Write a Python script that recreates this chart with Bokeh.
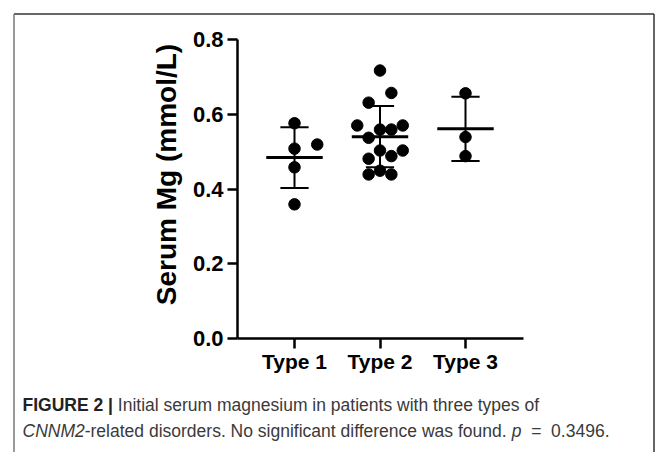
import numpy as np
from bokeh.plotting import figure
from bokeh.models import Range1d, FixedTicker, NumeralTickFormatter
from bokeh.core.properties import value
from bokeh.embed import file_html
from bokeh.resources import INLINE

# ---------------- data ----------------
categories = ["Type 1", "Type 2", "Type 3"]
type1_mg = [0.576, 0.508, 0.519, 0.458, 0.359]
type2_mg = [0.717, 0.657, 0.631, 0.570, 0.559, 0.559, 0.570, 0.537,
            0.503, 0.488, 0.503, 0.481, 0.439, 0.449, 0.439]
type3_mg = [0.656, 0.539, 0.488]
y_ticks = [0.0, 0.2, 0.4, 0.6, 0.8]
y_label = "Serum Mg (mmol/L)"

# layout only: horizontal slot of each dot inside its column (dot-plot spreading)
type1_slot = [0, 0, 2, 0, 0]
type2_slot = [0, 1, -1, -2, 0, 1, 2, -1, 0, 1, 2, -1, -1, 0, 1]
type3_slot = [0, 0, 0]

groups = [type1_mg, type2_mg, type3_mg]
slots = [type1_slot, type2_slot, type3_slot]
SLOT_W = 0.133

xs, ys = [], []
for i, (vals, sl) in enumerate(zip(groups, slots)):
    for v, s in zip(vals, sl):
        xs.append(i + 1 + s * SLOT_W)
        ys.append(v)

pos = np.arange(1, len(categories) + 1)
means = np.array([np.mean(g) for g in groups])
sds = np.array([np.std(g, ddof=1) for g in groups])

# ---------------- picture geometry (pixels) ----------------
W, H = 655, 452
PX_PER_X = 85.5         # pixels per category step
PX_PER_Y = 373.75       # pixels per 1.0 of y
X1_PX = 294.0           # picture x of category 1
Y0_PX = 338.0           # picture y of value 0


def xd(px):
    return 1 + (px - X1_PX) / PX_PER_X


def yd(py):
    return (Y0_PX - py) / PX_PER_Y


AX_LEFT = xd(237)
AX_RIGHT = xd(523)

p = figure(width=W, height=H, output_backend="svg", toolbar_location=None,
           x_range=Range1d(xd(0), xd(W)),
           y_range=Range1d(yd(H), yd(0)),
           min_border=0, min_border_left=0, min_border_right=0,
           min_border_top=0, min_border_bottom=0)
p.background_fill_color = "white"
p.border_fill_color = "white"
p.outline_line_color = None
p.xgrid.visible = False
p.ygrid.visible = False

# dots
p.scatter(xs, ys, size=11.5, color="black")

# mean and SD
MEAN_HW = 0.33
CAP_HW = 0.165
p.segment(x0=pos - MEAN_HW, x1=pos + MEAN_HW, y0=means, y1=means, line_color="black", line_width=3)
p.segment(x0=pos, x1=pos, y0=means - sds, y1=means + sds, line_color="black", line_width=2)
p.segment(x0=pos - CAP_HW, x1=pos + CAP_HW, y0=means + sds, y1=means + sds, line_color="black", line_width=2)
p.segment(x0=pos - CAP_HW, x1=pos + CAP_HW, y0=means - sds, y1=means - sds, line_color="black", line_width=2)

# axes, drawn at fixed places inside the canvas
for ax in (p.xaxis[0], p.yaxis[0]):
    ax.axis_line_width = 2.5
    ax.axis_line_color = "black"
    ax.major_tick_line_width = 2.5
    ax.major_tick_line_color = "black"
    ax.major_tick_in = 0
    ax.major_tick_out = 10
    ax.minor_tick_line_color = None
    ax.major_label_text_font = "Liberation Sans"
    ax.major_label_text_font_style = "bold"
    ax.major_label_text_color = "black"

p.xaxis.fixed_location = 0.0
p.xaxis.bounds = (AX_LEFT, AX_RIGHT)
p.xaxis.ticker = FixedTicker(ticks=list(pos))
p.xaxis.major_label_overrides = {int(k): c for k, c in zip(pos, categories)}
p.xaxis.major_label_standoff = 1
p.xaxis.major_label_text_font_size = "21px"

p.yaxis.fixed_location = AX_LEFT
p.yaxis.bounds = (0.0, 0.8)
p.yaxis.ticker = FixedTicker(ticks=y_ticks)
p.yaxis.formatter = NumeralTickFormatter(format="0.0")
p.yaxis.major_label_standoff = 4
p.yaxis.major_label_text_font_size = "22px"

# y-axis title (placed like the reference: slightly above the axis centre)
p.text(x=[xd(166)], y=[yd(174)], text=[y_label], angle=np.pi / 2,
       text_font=value("Liberation Sans"), text_font_style=value("bold"),
       text_font_size=value("28px"), text_color="black",
       text_align="center", text_baseline="middle")

# ---------------- figure frame ----------------
FL, FT, FR = 13.5, 13.5, W - 1.5
p.segment(x0=[xd(FL)], y0=[yd(FT)], x1=[xd(FR)], y1=[yd(FT)], line_color="#333333", line_width=1.5)
p.segment(x0=[xd(FL)], y0=[yd(FT)], x1=[xd(FL)], y1=[yd(H + 5)], line_color="#777777", line_width=1.5)
p.segment(x0=[xd(FR)], y0=[yd(FT)], x1=[xd(FR)], y1=[yd(H + 5)], line_color="#333333", line_width=1.5)

# ---------------- caption ----------------
REG = {' ': 278, '|': 260, '-': 333, '.': 278, '=': 584,
       'C': 722, 'I': 278, 'M': 833, 'N': 722,
       'a': 556, 'b': 556, 'c': 500, 'd': 556, 'e': 556, 'f': 278, 'g': 556, 'h': 556,
       'i': 222, 'k': 500, 'l': 222, 'm': 833, 'n': 556, 'o': 556, 'p': 556, 'r': 333,
       's': 500, 't': 278, 'u': 556, 'v': 500, 'w': 722, 'y': 500}
for d in "0123456789":
    REG[d] = 556
BOLD = {' ': 278, '|': 280, 'F': 611, 'I': 278, 'G': 778, 'U': 722, 'R': 722, 'E': 667, '2': 556}


def width(txt, bold, fs):
    tbl = BOLD if bold else REG
    return sum(tbl.get(ch, 556) for ch in txt) * fs / 1000.0


CAP_FS = 17.5
CAP_X = 22.0
line1 = [("FIGURE 2 |", "bold", "#222222"),
         (" ", None, None),
         ("Initial serum magnesium in patients with three types of", "normal", "#3a3a3a")]
line2 = [("CNNM2", "italic", "#3a3a3a"),
         ("-related disorders. No significant difference was found.", "normal", "#3a3a3a"),
         (" ", None, None),
         ("p", "italic", "#3a3a3a"),
         ("  ", None, None),
         ("=", "normal", "#3a3a3a"),
         ("  ", None, None),
         ("0.3496.", "normal", "#3a3a3a")]

for line, y in ((line1, 404.0), (line2, 430.0)):
    x = CAP_X
    for txt, style, col in line:
        if style is not None:
            p.text(x=[xd(x)], y=[yd(y)], text=[txt], text_font=value("Liberation Sans"),
                   text_font_style=value(style), text_font_size=value(f"{CAP_FS}px"),
                   text_color=col, text_align="left", text_baseline="middle")
        x += width(txt, style == "bold", CAP_FS)

open("out.html", "w").write(file_html(p, INLINE))
